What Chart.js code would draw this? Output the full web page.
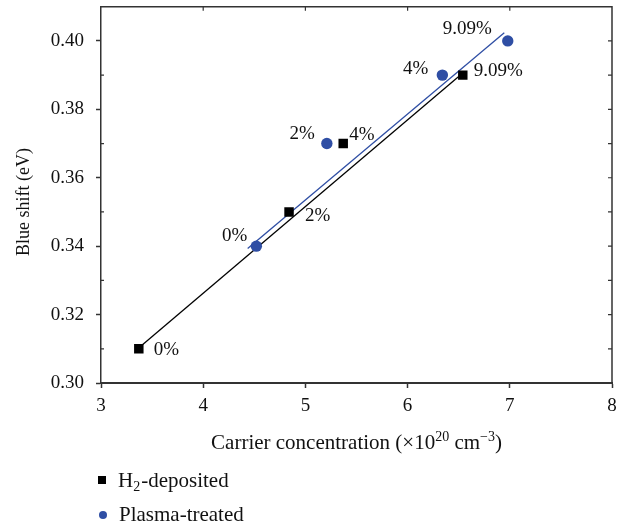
<!DOCTYPE html>
<html><head><meta charset="utf-8">
<script src="https://cdn.jsdelivr.net/npm/chart.js@4.4.1/dist/chart.umd.min.js"></script>
<style>html,body{margin:0;padding:0;background:#fff}#wrap{width:630px;height:527px;position:relative}</style>
</head><body><div id="wrap"><canvas id="c" width="630" height="527"></canvas></div>
<script>
// Data
const h2X = [3.37, 4.84, 5.37, 6.54];
const h2Y = [0.31, 0.35, 0.37, 0.39];
const h2Labels = ['0%', '2%', '4%', '9.09%'];
const plX = [4.52, 5.21, 6.34, 6.98];
const plY = [0.34, 0.37, 0.39, 0.40];
const plLabels = ['0%', '2%', '4%', '9.09%'];
const h2FitX = [3.40, 6.50];
const h2FitY = [0.311, 0.3896];
const plFitX = [4.435, 6.946];
const plFitY = [0.3393, 0.4024];
const xTicks = [3, 4, 5, 6, 7, 8];
const yTicks = [0.30, 0.32, 0.34, 0.36, 0.38, 0.40];
const yMinor = [0.31, 0.33, 0.35, 0.37, 0.39];
const xTitle = ['Carrier concentration (×10', '20', ' cm', '−3', ')'];
const yTitle = 'Blue shift (eV)';
const legendLabels = [['H', '2', '-deposited'], ['Plasma-treated']];

const BLUE = '#2F4EA4';
const FONT = "'Liberation Serif', 'DejaVu Serif', serif";
// label offsets (px) relative to the point: [dx, dy, align]
const h2LabelPos = [[15, 1, 'left'], [16, 4, 'left'], [6, -9, 'left'], [11, -4, 'left']];
const plLabelPos = [[-9, -10, 'right'], [-12, -10, 'right'], [-14, -6, 'right'], [-16, -12, 'right']];

const pts = (xs, ys) => xs.map((x, i) => ({x, y: ys[i]}));

const decor = {
  id: 'decor',
  afterDraw(chart) {
    const {ctx, chartArea: a, scales: {x, y}} = chart;
    ctx.save();
    ctx.strokeStyle = '#333';
    ctx.lineWidth = 1.5;
    ctx.beginPath();
    ctx.moveTo(a.left, a.top); ctx.lineTo(a.right, a.top); ctx.lineTo(a.right, a.bottom);
    ctx.stroke();
    ctx.lineWidth = 1.2;
    ctx.beginPath();
    xTicks.slice(1, -1).forEach(v => { const px = x.getPixelForValue(v); ctx.moveTo(px, a.top); ctx.lineTo(px, a.top + 4); });
    yTicks.concat(yMinor).forEach(v => { const py = y.getPixelForValue(v); if (py > a.top && py < a.bottom) { ctx.moveTo(a.right, py); ctx.lineTo(a.right - 4, py); } });
    yMinor.forEach(v => { const py = y.getPixelForValue(v); ctx.moveTo(a.left, py); ctx.lineTo(a.left + 3, py); });
    ctx.stroke();
    // point labels
    ctx.fillStyle = '#111';
    ctx.font = '19px ' + FONT;
    ctx.textBaseline = 'middle';
    const lab = (xs, ys, ls, pos) => xs.forEach((xv, i) => {
      const px = x.getPixelForValue(xv), py = y.getPixelForValue(ys[i]);
      ctx.textAlign = pos[i][2];
      ctx.fillText(ls[i], px + pos[i][0], py + pos[i][1]);
    });
    lab(h2X, h2Y, h2Labels, h2LabelPos);
    lab(plX, plY, plLabels, plLabelPos);
    // x title with superscripts
    ctx.textAlign = 'left';
    ctx.textBaseline = 'alphabetic';
    const big = '21px ' + FONT, small = '14px ' + FONT;
    const parts = xTitle.map((t, i) => ({t, sup: i === 1 || i === 3}));
    let w = 0;
    parts.forEach(p => { ctx.font = p.sup ? small : big; w += ctx.measureText(p.t).width; });
    let tx = (a.left + a.right) / 2 - w / 2;
    const by = 449;
    parts.forEach(p => { ctx.font = p.sup ? small : big; ctx.fillText(p.t, tx, p.sup ? by - 8 : by); tx += ctx.measureText(p.t).width; });
    // y title
    ctx.save();
    ctx.translate(24, 202);
    ctx.rotate(-Math.PI / 2);
    ctx.font = '18px ' + FONT;
    ctx.textAlign = 'center';
    ctx.textBaseline = 'middle';
    ctx.fillText(yTitle, 0, 0);
    ctx.restore();
    // legend
    ctx.textAlign = 'left';
    ctx.textBaseline = 'middle';
    ctx.fillStyle = '#000';
    ctx.fillRect(98, 476, 8, 8);
    ctx.fillStyle = '#111';
    tx = 118; let ty = 481;
    ctx.font = big;
    ctx.fillText(legendLabels[0][0], tx, ty); tx += ctx.measureText(legendLabels[0][0]).width;
    ctx.font = small;
    ctx.fillText(legendLabels[0][1], tx, ty + 6); tx += ctx.measureText(legendLabels[0][1]).width + 1;
    ctx.font = big;
    ctx.fillText(legendLabels[0][2], tx, ty);
    ctx.fillStyle = BLUE;
    ctx.beginPath(); ctx.arc(103, 515, 4, 0, Math.PI * 2); ctx.fill();
    ctx.fillStyle = '#111';
    ctx.fillText(legendLabels[1][0], 119, 515);
    ctx.restore();
  }
};

new Chart(document.getElementById('c'), {
  type: 'scatter',
  data: {
    datasets: [
      {label: 'H2 fit', data: pts(h2FitX, h2FitY), showLine: true, borderColor: '#000', borderWidth: 1.3, pointRadius: 0, order: 3},
      {label: 'Plasma fit', data: pts(plFitX, plFitY), showLine: true, borderColor: BLUE, borderWidth: 1.3, pointRadius: 0, order: 3},
      {label: 'H2-deposited', data: pts(h2X, h2Y), pointStyle: 'rect', pointRadius: 6.7, backgroundColor: '#000', borderColor: '#000', borderWidth: 0, order: 1},
      {label: 'Plasma-treated', data: pts(plX, plY), pointStyle: 'circle', pointRadius: 5.7, backgroundColor: BLUE, borderColor: BLUE, borderWidth: 0, order: 2}
    ]
  },
  options: {
    responsive: false,
    animation: false,
    layout: {padding: {left: 0, right: 18, top: 5, bottom: 70}},
    plugins: {legend: {display: false}, tooltip: {enabled: false}},
    scales: {
      x: {
        type: 'linear', min: 3, max: 8,
        afterBuildTicks: s => { s.ticks = xTicks.map(v => ({value: v})); },
        afterFit: s => { s.height = 74; s.paddingLeft = 0; s.paddingRight = 0; },
        ticks: {color: '#111', font: {family: FONT, size: 19}, padding: 7, callback: v => String(v)},
        grid: {drawOnChartArea: false, drawTicks: true, tickLength: 5, tickWidth: 1.5, tickColor: '#333'},
        border: {display: true, color: '#333', width: 2},
        title: {display: false}
      },
      y: {
        type: 'linear', min: 0.30, max: 0.41,
        afterBuildTicks: s => { s.ticks = yTicks.map(v => ({value: v})); },
        afterFit: s => { s.width = 101; s.paddingTop = 0; s.paddingBottom = 0; },
        ticks: {color: '#111', font: {family: FONT, size: 19}, padding: 12, callback: v => v.toFixed(2)},
        grid: {drawOnChartArea: false, drawTicks: true, tickLength: 5, tickWidth: 1.5, tickColor: '#333'},
        border: {display: true, color: '#333', width: 1.5},
        title: {display: false}
      }
    }
  },
  plugins: [decor]
});
</script></body></html>
